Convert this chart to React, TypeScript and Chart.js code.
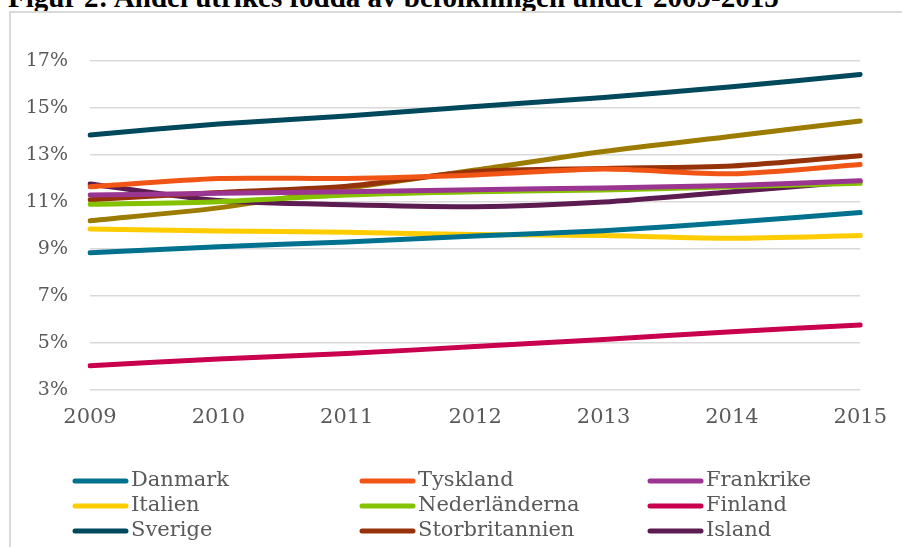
import React, { useEffect, useRef } from "react";
import { Chart, registerables } from "chart.js";

Chart.register(...registerables);

const years = ["2009", "2010", "2011", "2012", "2013", "2014", "2015"];

const danmark = [8.84, 9.1, 9.3, 9.55, 9.78, 10.14, 10.55];
const tyskland = [11.65, 12.0, 12.0, 12.15, 12.4, 12.2, 12.6];
const frankrike = [11.3, 11.37, 11.44, 11.52, 11.6, 11.7, 11.9];
const italien = [9.85, 9.77, 9.71, 9.62, 9.57, 9.46, 9.57];
const nederlanderna = [10.9, 11.01, 11.3, 11.44, 11.51, 11.65, 11.8];
const finland = [4.03, 4.32, 4.55, 4.85, 5.15, 5.48, 5.77];
const sverige = [13.85, 14.32, 14.66, 15.06, 15.45, 15.9, 16.43];
const storbritannien = [11.1, 11.4, 11.67, 12.3, 12.43, 12.53, 12.97];
const island = [11.77, 11.06, 10.88, 10.8, 11.0, 11.44, 11.88];
const norge = [10.2, 10.75, 11.58, 12.36, 13.15, 13.8, 14.45];

const yTicks = [3, 5, 7, 9, 11, 13, 15, 17];

const series = [
  { label: "Danmark", data: danmark, color: "#00728f" },
  { label: "Tyskland", data: tyskland, color: "#f05516" },
  { label: "Frankrike", data: frankrike, color: "#9a3592" },
  { label: "Italien", data: italien, color: "#ffcc00" },
  { label: "Nederländerna", data: nederlanderna, color: "#84c200" },
  { label: "Finland", data: finland, color: "#c8004e" },
  { label: "Sverige", data: sverige, color: "#00485b" },
  { label: "Storbritannien", data: storbritannien, color: "#963209" },
  { label: "Island", data: island, color: "#5c1c52" },
  { label: "Norge", data: norge, color: "#9c7c00", hidden_legend: true },
];

const FONT = "'DejaVu Serif', serif";
const TEXT = "#595959";

const legendPlugin = {
  id: "gridLegend",
  afterDraw(chart: any) {
    const ctx = chart.ctx;
    const colX = [73, 360, 648];
    const rowY = [481, 506, 531];
    ctx.save();
    ctx.font = `21px ${FONT}`;
    ctx.textBaseline = "middle";
    ctx.textAlign = "left";
    let idx = 0;
    chart.data.datasets.forEach((ds: any) => {
      if (ds.hideInLegend) return;
      const col = idx % 3;
      const row = Math.floor(idx / 3);
      idx++;
      const x = colX[col];
      const y = rowY[row];
      ctx.strokeStyle = ds.borderColor;
      ctx.lineWidth = 5;
      ctx.lineCap = "round";
      ctx.beginPath();
      ctx.moveTo(x + 2, y);
      ctx.lineTo(x + 53, y);
      ctx.stroke();
      ctx.fillStyle = TEXT;
      ctx.fillText(ds.label, x + 58, y);
    });
    ctx.restore();
  },
};

export default function App() {
  const ref = useRef<HTMLCanvasElement | null>(null);
  useEffect(() => {
    if (!ref.current) return;
    const chart = new Chart(ref.current, {
      type: "line",
      data: {
        labels: years,
        datasets: series.map((s) => ({
          label: s.label,
          data: s.data,
          borderColor: s.color,
          backgroundColor: s.color,
          borderWidth: 5,
          pointRadius: 0,
          tension: 0.25,
          borderCapStyle: "round",
          borderJoinStyle: "round",
          fill: false,
          hideInLegend: !!(s as any).hidden_legend,
        })) as any,
      },
      options: {
        animation: false,
        responsive: false,
        maintainAspectRatio: false,
        layout: { padding: { top: 61, right: 34, bottom: 97, left: 0 } },
        plugins: { legend: { display: false }, tooltip: { enabled: false }, title: { display: false } },
        scales: {
          x: {
            grid: { display: false, drawTicks: false },
            border: { display: false },
            ticks: { color: TEXT, font: { family: FONT, size: 21 }, padding: 15, maxRotation: 0 },
            afterFit: (s: any) => { s.height = 60; },
          },
          y: {
            min: 3,
            max: 17,
            afterBuildTicks: (s: any) => { s.ticks = yTicks.map((v) => ({ value: v })); },
            grid: { color: "#d9d9d9", lineWidth: 1.6, drawTicks: false },
            border: { display: false },
            ticks: {
              color: TEXT,
              font: { family: FONT, size: 19 },
              padding: 22,
              callback: (v: any) => `${v}%`,
            },
            afterFit: (s: any) => { s.width = 90; },
          },
        },
      },
      plugins: [legendPlugin],
    });
    return () => chart.destroy();
  }, []);

  return (
    <div style={{ position: "fixed", left: 0, top: 0, width: 902, height: 547, overflow: "hidden", background: "#fff" }}>
      <div
        style={{
          position: "absolute",
          left: 8,
          top: -17,
          fontFamily: "'Liberation Serif', serif",
          fontWeight: "bold",
          fontSize: 29,
          lineHeight: "29px",
          color: "#000",
          whiteSpace: "nowrap",
        }}
      >
        Figur 2: Andel utrikes födda av befolkningen under 2009-2015
      </div>
      <div
        style={{
          position: "absolute",
          left: 9,
          top: 11,
          width: 1000,
          height: 1000,
          border: "2px solid #d9d9d9",
          boxSizing: "border-box",
        }}
      />
      <canvas ref={ref} width={902} height={547} style={{ position: "absolute", left: 0, top: 0, width: 902, height: 547 }} />
    </div>
  );
}
